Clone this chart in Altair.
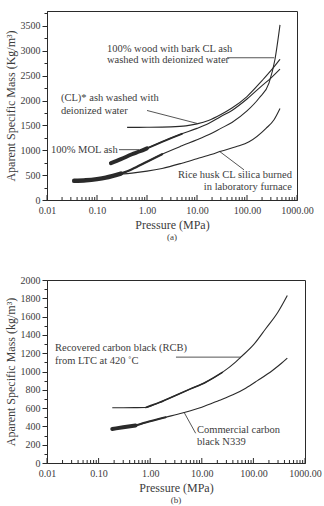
import altair as alt
import pandas as pd

FONT = "Liberation Serif"
INK = "#2a2a2a"
TEXT = "#3c3c3c"

# ---------------- panel (a): ashes ----------------
wood_p = [0.035, 0.06, 0.1, 0.15, 0.2, 0.3, 0.5, 1, 2, 5, 10, 17, 30, 50, 100, 175, 275, 363, 457]
wood_m = [385, 395, 420, 450, 480, 530, 620, 770, 920, 1090, 1210, 1310, 1440, 1560, 1790, 2050, 2350, 2830, 3520]

clw_p = [0.4, 1, 3, 6, 10, 17, 30, 50, 100, 200, 300, 457]
clw_m = [1460, 1462, 1470, 1490, 1530, 1600, 1720, 1850, 2080, 2400, 2600, 2830]

mol_p = [0.19, 0.3, 0.5, 0.7, 1, 2, 5, 10, 17, 30, 50, 100, 200, 300, 457]
mol_m = [740, 820, 920, 975, 1040, 1170, 1330, 1440, 1540, 1680, 1800, 2030, 2300, 2450, 2630]

rice_p = [0.3, 0.5, 1, 2, 5, 10, 20, 30, 60, 110, 240, 350, 457]
rice_m = [520, 540, 580, 635, 740, 830, 920, 980, 1070, 1170, 1440, 1620, 1840]

# ---------------- panel (b): carbon blacks ----------------
rcb_p = [0.184, 0.3, 0.5, 0.82, 1.5, 3.6, 6, 11.9, 25, 45, 57, 100, 173, 300, 454]
rcb_m = [604, 604, 605, 607, 660, 755, 810, 883, 990, 1102, 1157, 1290, 1467, 1650, 1830]

n339_p = [0.184, 0.3, 0.52, 0.95, 2, 4.2, 10, 21.5, 40, 71, 120, 234, 350, 454]
n339_m = [372, 390, 410, 453, 500, 547, 610, 683, 745, 818, 900, 1011, 1090, 1146]

# scattered stretches of each curve, drawn heavier: (curve, first index, last index, stroke width)
heavy_a = [("wood", 0, 5, 4.5), ("wood", 5, 8, 2.2), ("mol", 0, 4, 4), ("mol", 4, 6, 1.9)]
heavy_b = [("n339", 0, 2, 4), ("n339", 2, 4, 2.0), ("rcb", 3, 8, 1.6)]

# annotation texts: (text, pressure, mass)
notes_a_left = [
    ("100% wood with bark CL ash", 0.158, 3040),
    ("washed with deionized water", 0.158, 2815),
    ("(CL)* ash washed with", 0.019, 2045),
    ("deionized water", 0.019, 1785),
    ("100% MOL ash", 0.012, 1012),
]
notes_a_right = [
    ("Rice husk CL silica burned", 790, 506),
    ("in laboratory furnace", 790, 265),
]
arrows_a = [
    (40, 2860, 350, 2860),
    (1.0, 1800, 10, 1540),
    (0.275, 1012, 0.69, 1012),
    (87, 607, 28, 980),
]

notes_b_left = [
    ("Recovered carbon black  (RCB)", 0.0143, 1256),
    ("from LTC at 420 \u02daC", 0.0143, 1114),
    ("Commercial carbon", 8.07, 358),
    ("black N339", 8.07, 227),
]
arrows_b = [
    (3.16, 1157, 57.5, 1157),
    (7.6, 325, 4.52, 555),
]

decades = [0.01, 0.1, 1, 10, 100, 1000]
minor_x = [k * d for d in decades[:-1] for k in range(2, 10)]


def curves_frame(curves):
    rows = []
    for name, ps, ms in curves:
        for p, m in zip(ps, ms):
            rows.append({"series": name, "p": p, "m": m})
    return pd.DataFrame(rows)


def panel(curves, heavy, left_notes, right_notes, arrows, ymax, ystep, yminor,
          width, height, ytitle, tag):
    xs = alt.Scale(type="log", domain=[0.01, 1000], nice=False)
    ys = alt.Scale(domain=[0, ymax], nice=False, zero=True)
    x_axis = alt.Axis(title="Pressure (MPa)", values=decades, format=".2f",
                      ticks=False, grid=False, labelPadding=5, titlePadding=4,
                      labelFlush=False)
    y_vals = list(range(0, ymax + 1, yminor))
    y_axis = alt.Axis(
        title=ytitle, values=y_vals, format="d", grid=False,
        labelExpr=f"datum.value % {ystep} == 0 ? datum.label : ''",
        tickSize={"condition": {"test": f"datum.value % {ystep} == 0", "value": 5}, "value": 3},
        labelPadding=2, titlePadding=3,
    )
    X = alt.X("p:Q", scale=xs, axis=x_axis)
    Y = alt.Y("m:Q", scale=ys, axis=y_axis)

    df = curves_frame(curves)
    layers = [alt.Chart(df).mark_line(color=INK, strokeWidth=1.1, interpolate="monotone").encode(
        x=X, y=Y, detail="series:N")]

    lookup = {name: (ps, ms) for name, ps, ms in curves}
    for name, i0, i1, w in heavy:
        ps, ms = lookup[name]
        seg = pd.DataFrame({"p": ps[i0:i1 + 1], "m": ms[i0:i1 + 1]})
        layers.append(alt.Chart(seg).mark_line(color=INK, strokeWidth=w, strokeCap="round",
                                               interpolate="monotone").encode(x=X, y=Y))

    da = pd.DataFrame(arrows, columns=["p", "m", "p2", "m2"])
    layers.append(alt.Chart(da).mark_rule(color=INK, strokeWidth=0.8).encode(
        x=X, y=Y, x2="p2:Q", y2="m2:Q"))

    if left_notes:
        dl = pd.DataFrame(left_notes, columns=["t", "p", "m"])
        layers.append(alt.Chart(dl).mark_text(
            align="left", baseline="middle", font=FONT, fontSize=10.5, color=TEXT
        ).encode(x=X, y=Y, text="t:N"))
    if right_notes:
        dr = pd.DataFrame(right_notes, columns=["t", "p", "m"])
        layers.append(alt.Chart(dr).mark_text(
            align="right", baseline="middle", font=FONT, fontSize=10.5, color=TEXT
        ).encode(x=X, y=Y, text="t:N"))

    # inward log ticks along the pressure axis
    dmaj = pd.DataFrame({"p": decades})
    dmin = pd.DataFrame({"p": minor_x})
    layers.append(alt.Chart(dmaj).mark_rule(color=INK, strokeWidth=1).encode(
        x=X, y=alt.value(height), y2=alt.value(height - 5)))
    layers.append(alt.Chart(dmin).mark_rule(color=INK, strokeWidth=1).encode(
        x=X, y=alt.value(height), y2=alt.value(height - 3)))

    return alt.layer(*layers).properties(
        width=width, height=height,
        title=alt.TitleParams(tag, orient="bottom", font=FONT, fontSize=9,
                              fontWeight="normal", color=TEXT, offset=3),
    )


top = panel(
    [("wood", wood_p, wood_m), ("clw", clw_p, clw_m), ("mol", mol_p, mol_m), ("rice", rice_p, rice_m)],
    heavy_a, notes_a_left, notes_a_right, arrows_a,
    3800, 500, 250, 250, 189, "Aparent Specific Mass (Kg/m\u00b3)", "(a)")

bottom = panel(
    [("rcb", rcb_p, rcb_m), ("n339", n339_p, n339_m)],
    heavy_b, notes_b_left, [], arrows_b,
    2000, 200, 100, 258, 183, "Aparent Specific Mass (kg/m\u00b3)", "(b)")

chart = alt.vconcat(top, bottom, spacing=31).properties(
    padding={"left": 3, "top": 10, "right": 0, "bottom": 0},
    background="white",
).configure_view(
    stroke=INK, strokeWidth=1
).configure_axis(
    domainColor=INK, tickColor=INK, labelFont=FONT, titleFont=FONT,
    labelFontSize=10, titleFontSize=12, titleFontWeight="normal",
    labelColor=TEXT, titleColor=TEXT, domainWidth=1
)

chart.save("out.html", embed_options={"renderer": "svg", "actions": False})
